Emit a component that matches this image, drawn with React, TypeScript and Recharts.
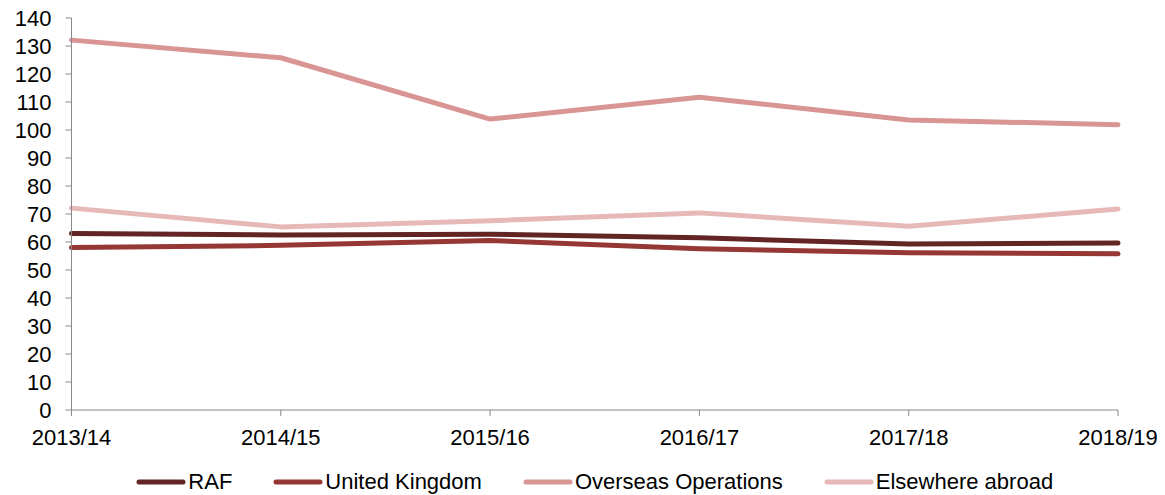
import React from "react";
import { LineChart, Line, XAxis, YAxis, Legend } from "recharts";

const years = ["2013/14", "2014/15", "2015/16", "2016/17", "2017/18", "2018/19"];
const raf = [63.0, 62.5, 62.8, 61.5, 59.3, 59.6];
const unitedKingdom = [58.0, 58.8, 60.5, 57.6, 56.2, 55.8];
const overseasOperations = [132.1, 125.8, 103.9, 111.7, 103.6, 101.9];
const elsewhereAbroad = [72.1, 65.4, 67.6, 70.4, 65.6, 71.8];
const yTicks = [0, 10, 20, 30, 40, 50, 60, 70, 80, 90, 100, 110, 120, 130, 140];

const seriesNames = ["RAF", "United Kingdom", "Overseas Operations", "Elsewhere abroad"];
const seriesKeys = ["raf", "uk", "overseas", "elsewhere"];
const seriesColors = ["#632523", "#953735", "#D99594", "#E6B9B8"];

const data = years.map((y, i) => ({
  year: y,
  raf: raf[i],
  uk: unitedKingdom[i],
  overseas: overseasOperations[i],
  elsewhere: elsewhereAbroad[i],
}));

const FONT = "'Liberation Sans', Arial, sans-serif";

const renderLegend = () => {
  return (
    <div style={{ display: "flex", alignItems: "center", justifyContent: "center", gap: 41, fontFamily: FONT, fontSize: 22, color: "#000", lineHeight: "24px" }}>
      {seriesNames.map((name, i) => (
        <div key={i} style={{ display: "flex", alignItems: "center" }}>
          <svg width={50} height={8} style={{ marginRight: 2 }}>
            <line x1={3} y1={4} x2={47} y2={4} stroke={seriesColors[i]} strokeWidth={5} strokeLinecap="round" />
          </svg>
          <span>{name}</span>
        </div>
      ))}
    </div>
  );
};

export default function App() {
  return (
    <div style={{ position: "absolute", left: 0, top: 0 }}>
      <LineChart width={1165} height={495} data={data} margin={{ top: 18, right: 47, left: 0, bottom: 0 }}>
        <XAxis
          dataKey="year"
          stroke="#898989"
          tickSize={6}
          tickMargin={13}
          tick={{ fill: "#000", fontSize: 22, fontFamily: FONT }}
          height={61}
          interval={0}
        />
        <YAxis
          domain={[0, 140]}
          ticks={yTicks}
          stroke="#898989"
          tickSize={6}
          tickMargin={14}
          width={71.5}
          tick={{ fill: "#000", fontSize: 22, fontFamily: FONT }}
          interval={0}
        />
        <Legend content={renderLegend} verticalAlign="bottom" wrapperStyle={{ left: 71.5, width: 1046.5, bottom: 1 }} />
        {seriesKeys.map((k, i) => (
          <Line
            key={k}
            dataKey={k}
            name={seriesNames[i]}
            stroke={seriesColors[i]}
            strokeWidth={5}
            dot={false}
            isAnimationActive={false}
            strokeLinecap="round"
            strokeLinejoin="round"
          />
        ))}
      </LineChart>
    </div>
  );
}
